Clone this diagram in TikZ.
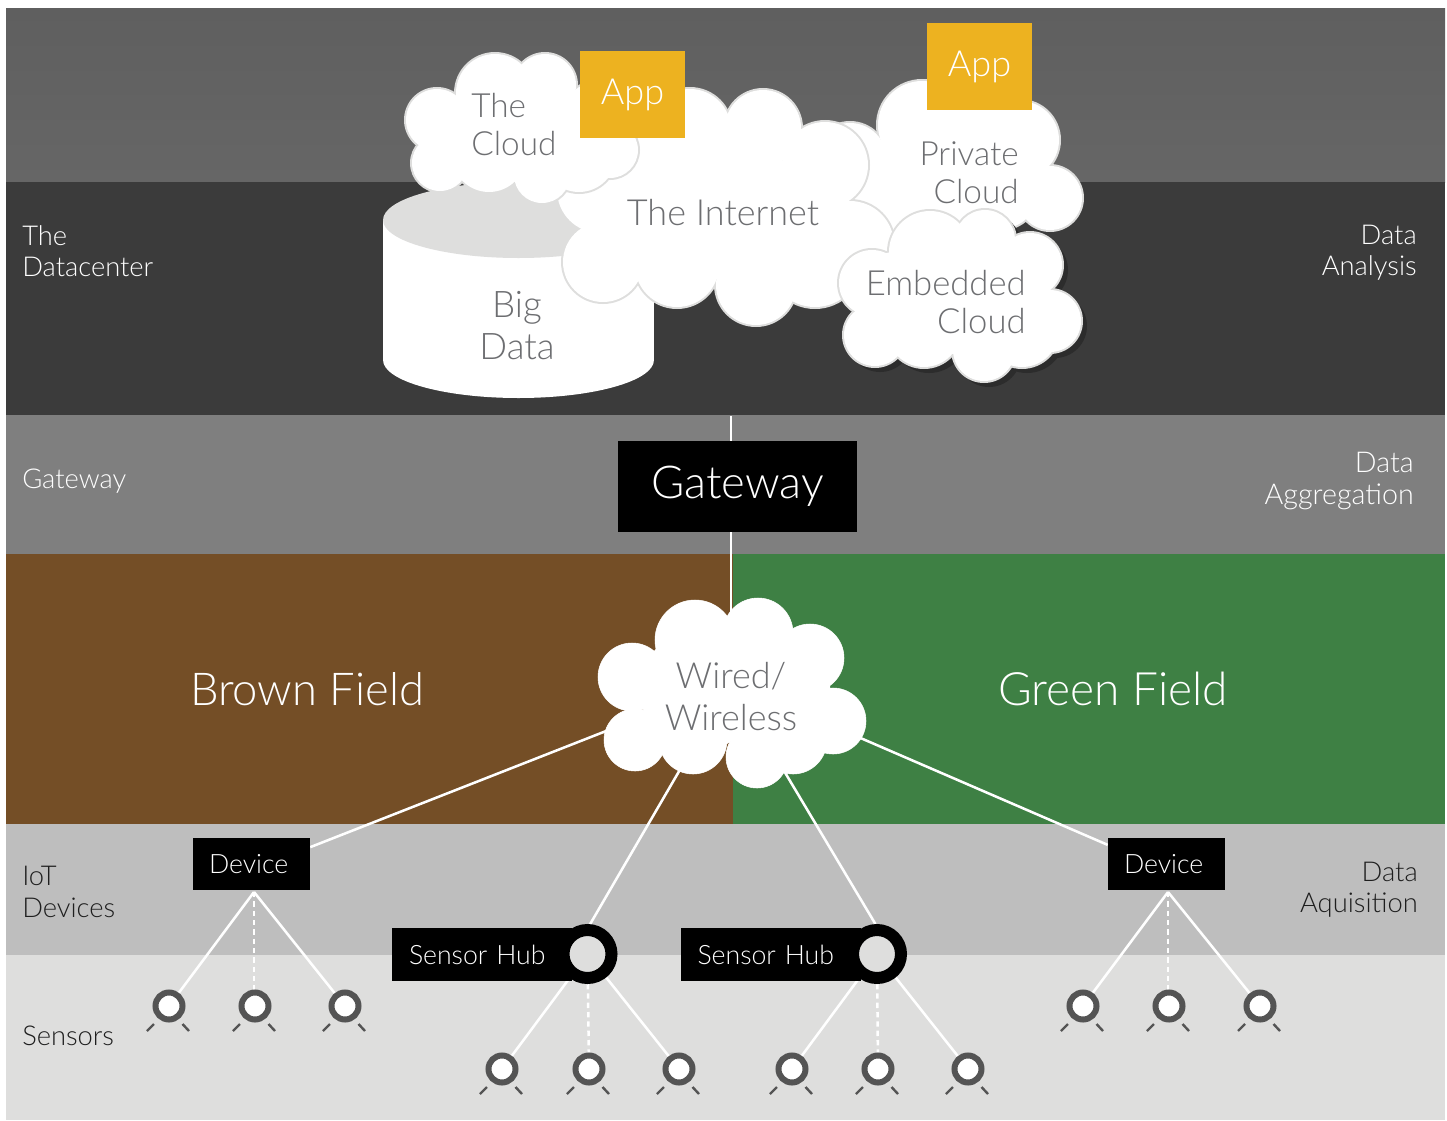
\documentclass[tikz,border=0pt]{standalone}
\usepackage{fontspec}
\setmainfont{Lato Light}
\usepackage{tikz}
\usetikzlibrary{positioning, calc, backgrounds}
\definecolor{bandCloud}{HTML}{5F5F5F}
\definecolor{bandCloudLow}{HTML}{666666}
\definecolor{bandData}{HTML}{3B3B3B}
\definecolor{bandGate}{HTML}{7F7F7F}
\definecolor{bandBrown}{HTML}{744E26}
\definecolor{bandGreen}{HTML}{3E8044}
\definecolor{bandIot}{HTML}{BEBEBE}
\definecolor{bandSensor}{HTML}{DEDEDD}
\definecolor{cloudText}{HTML}{6D6E71}
\definecolor{appYellow}{HTML}{EDB220}
\definecolor{sensorGrey}{HTML}{545454}
\definecolor{labelDark}{HTML}{1E1E1E}
\tikzstyle{blackBox} =[fill=black, text=white, inner sep=0pt, font=\fontsize{20}{24}\selectfont]
\tikzstyle{deviceBox} =[blackBox, align=left, text width=63.75pt, inner xsep=12pt, minimum height=39pt]
\tikzstyle{appBox} =[fill=appYellow, text=white, inner sep=0pt, minimum width=78.75pt, minimum height=65.25pt, font=\fontsize{27}{30}\selectfont]
\tikzstyle{cloudLabel} =[text=cloudText, inner sep=0pt, font=\fontsize{26}{28.5}\selectfont]
\tikzstyle{sideLabel} =[inner sep=0pt, font=\fontsize{20.5}{23.5}\selectfont]
\tikzstyle{fieldLabel} =[text=white, inner sep=0pt, font=\fontsize{34}{40}\selectfont]
\tikzstyle{sensorRing} =[circle, draw=sensorGrey, fill=white, line width=4.5pt, minimum size=20.25pt, inner sep=0pt]
\tikzstyle{sensorFoot} =[draw=sensorGrey, line width=1.8pt]
\tikzstyle{hubRing} =[circle, draw=black, fill=bandSensor, line width=9pt, minimum size=36pt, inner sep=0pt]
\tikzstyle{hubBox} =[blackBox, align=left, text width=109.5pt, inner xsep=12.75pt, minimum height=39.75pt]
\tikzstyle{wire} =[draw=white, line width=1.9pt]
\tikzstyle{dashedWire} =[draw=white, line width=1.9pt, dash pattern=on 4pt off 3pt]
\tikzstyle{cloudEdge} =[draw=bandSensor, line width=3pt]

% cloud made of round lobes: outline first, then the white over it
\newcommand{\lobeCloud}[2]{
	\foreach \lobeX/\lobeY/\lobeR in #2 {\path[#1] (\lobeX,\lobeY) circle [radius=0.75pt*(\lobeR-1)];}
	\foreach \lobeX/\lobeY/\lobeR in #2 {\fill[white] (\lobeX,\lobeY) circle [radius=0.75pt*(\lobeR-1)];}
}
\newcommand{\sensorNode}[2]{
	\node (#1) [sensorRing] at (#2) {};
	\draw[sensorFoot] ($(#1)+(-22,25)$) -- ($(#1)+(-15,18)$);
	\draw[sensorFoot] ($(#1)+(13.5,18)$) -- ($(#1)+(20,25)$);
}
\def\privateLobes{850/160/38, 922/125/45, 1020/140/40, 1050/198/33, 960/170/65, 975/140/45, 1000/190/40, 900/190/50}
\def\internetLobes{690/130/42, 655/150/38, 763/128/39, 825/165/44, 850/245/45, 815/260/48, 756/285/41, 677/265/43, 603/262/41, 600/190/44, 650/210/60, 720/210/70, 780/220/60}
\def\theCloudLobes{495/93/40, 545/85/32, 437/120/32, 440/163/29, 489/155/38, 542/175/29, 579/155/38, 610/150/29, 600/120/40, 500/135/50, 550/140/45}
\def\embeddedLobes{930/252/42, 985/240/31, 1030/265/33, 1050/321/32, 872/283/34, 875/335/32, 924/330/38, 984/350/32, 1022/330/38, 950/295/60, 1000/300/50, 900/295/45}
\def\wiredLobes{695/640/41, 758/633/36, 810/658/35, 833/721/34, 632/677/35, 635/740/32, 693/740/35, 757/757/32, 793/740/35, 700/690/61, 770/690/61}

\begin{document}
\begin{tikzpicture}[x=0.75pt, y=-0.75pt]
\useasboundingbox (0,0) rectangle (1447,1121);

% bands
\begin{scope}[on background layer]
\shade[top color=bandCloud, bottom color=bandCloudLow] (6,8) rectangle (1445,182);
\fill[bandData] (6,182) rectangle (1445,415);
\fill[bandGate] (6,415) rectangle (1445,554);
\fill[bandBrown] (6,554) rectangle (733,824);
\fill[bandGreen] (733,554) rectangle (1445,824);
\fill[bandIot] (6,824) rectangle (1445,955);
\fill[bandSensor] (6,955) rectangle (1445,1120);
\end{scope}

\node (bandDatacenter) [sideLabel, text=white, align=left, anchor=west] at (22,251) {The\\Datacenter};
\node (bandAnalysis) [sideLabel, text=white, align=right, anchor=east] at (1417,253) {Data\\Analysis};
\node (bandGateway) [sideLabel, text=white, anchor=west] at (22,481) {Gateway};
\node (bandAggregation) [sideLabel, text=white, align=right, anchor=east, font=\fontsize{21.5}{24}\selectfont] at (1414,481) {Data\\Aggregation};
\node (bandDevices) [sideLabel, text=labelDark, align=left, anchor=west] at (22,892) {IoT\\Devices};
\node (bandAquisition) [sideLabel, text=labelDark, align=right, anchor=east] at (1418,890) {Data\\Aquisition};
\node (bandSensors) [sideLabel, text=labelDark, anchor=west] at (22,1036) {Sensors};
\node (brownField) [fieldLabel] at (307,689) {Brown Field};
\node (greenField) [fieldLabel, font=\fontsize{34.5}{40}\selectfont] at (1113,689) {Green Field};

% big data
\fill[white] (383,220) rectangle (654,360);
\fill[white] (518.5,360) ellipse [x radius=101.6pt, y radius=28.5pt];
\fill[bandSensor] (518.5,220) ellipse [x radius=101.6pt, y radius=28.5pt];
\node (bigData) [cloudLabel, align=center, font=\fontsize{27.5}{31.5}\selectfont] at (517,326) {Big\\Data};

% clouds
\lobeCloud{cloudEdge}{\privateLobes}
\lobeCloud{cloudEdge}{\internetLobes}
\lobeCloud{cloudEdge}{\theCloudLobes}
\foreach \lobeX/\lobeY/\lobeR in \embeddedLobes {\fill[black!25!bandData] (\lobeX+5,\lobeY+5) circle [radius=0.75pt*\lobeR];}
\lobeCloud{cloudEdge}{\embeddedLobes}
\lobeCloud{draw=white}{\wiredLobes}

\node (internet) [cloudLabel, font=\fontsize{27}{30}\selectfont] at (723,213) {The Internet};
\node (theCloud) [cloudLabel, align=left, anchor=west, font=\fontsize{25}{28.5}\selectfont] at (471,125) {The\\Cloud};
\node (privateCloud) [cloudLabel, align=right, anchor=east, font=\fontsize{25}{28.5}\selectfont] at (1019,173) {Private\\Cloud};
\node (embeddedCloud) [cloudLabel, align=right, anchor=east] at (1026,302) {Embedded\\Cloud};
\node (wired) [cloudLabel, align=center, font=\fontsize{27}{31.5}\selectfont] at (731,697) {Wired/\\Wireless};
\coordinate (wiredHub) at ($(wired.center)+(0,-15)$);

\node (appCloud) [appBox] at (632.5,94.5) {\raisebox{-3pt}{App}};
\node (appPrivate) [appBox] at (979.5,66.5) {\raisebox{-3pt}{App}};

% gateway
\coordinate (gwTop) at (731,416);
\node (gateway) [blackBox, minimum width=179.25pt, minimum height=68.25pt, font=\fontsize{34}{40}\selectfont] at (737.5,486.5) {Gateway\hspace{3.5pt}};

% devices
\node (devL) [deviceBox] at (251.5,864) {Device};
\node (devR) [deviceBox] at (1166.5,864) {Device};
\coordinate (apexL) at (254,892);
\coordinate (apexR) at (1168,892);

% sensor hubs
\node (hubBoxL) [hubBox] at (482,954.5) {Sensor Hub};
\node (hubRingL) [hubRing] at (587.5,954) {};
\node (hubBoxR) [hubBox, right=81pt of hubBoxL] {Sensor Hub};
\node (hubRingR) [hubRing] at (877,954) {};

% sensors
\sensorNode{sensorA}{169,1006}
\sensorNode{sensorB}{255,1006}
\sensorNode{sensorC}{345,1006}
\sensorNode{sensorD}{502,1069}
\sensorNode{sensorE}{589,1069}
\sensorNode{sensorF}{679,1069}
\sensorNode{sensorG}{792,1069}
\sensorNode{sensorH}{878,1069}
\sensorNode{sensorI}{968,1069}
\sensorNode{sensorJ}{1083,1006}
\sensorNode{sensorK}{1169,1006}
\sensorNode{sensorL}{1260,1006}

% connectors
\begin{scope}[on background layer]
\draw[wire, line width=1.6pt] (gwTop) -- (gateway.north -| gwTop);
\draw[wire, line width=1.6pt] (gateway.south -| gwTop) -- (wiredHub);
\draw[wire] (wiredHub) -- (devL.16);
\draw[wire] (wiredHub) -- (devR.162);
\draw[wire] (wiredHub) -- (hubRingL.85);
\draw[wire] (wiredHub) -- (hubRingR.93);

\draw[wire] (apexL) -- (sensorA);
\draw[dashedWire] (apexL) -- (sensorB.north -| apexL);
\draw[wire] (apexL) -- (sensorC);
\draw[wire] (apexR) -- (sensorJ);
\draw[dashedWire] (apexR) -- (sensorK.north -| apexR);
\draw[wire] (apexR) -- (sensorL);

\draw[wire] (hubRingL) -- (sensorD);
\draw[dashedWire] (hubRingL) -- (sensorE);
\draw[wire] (hubRingL) -- (sensorF);
\draw[wire] (hubRingR) -- (sensorG);
\draw[dashedWire] (hubRingR) -- (sensorH);
\draw[wire] (hubRingR) -- (sensorI);
\end{scope}
\end{tikzpicture}
\end{document}
